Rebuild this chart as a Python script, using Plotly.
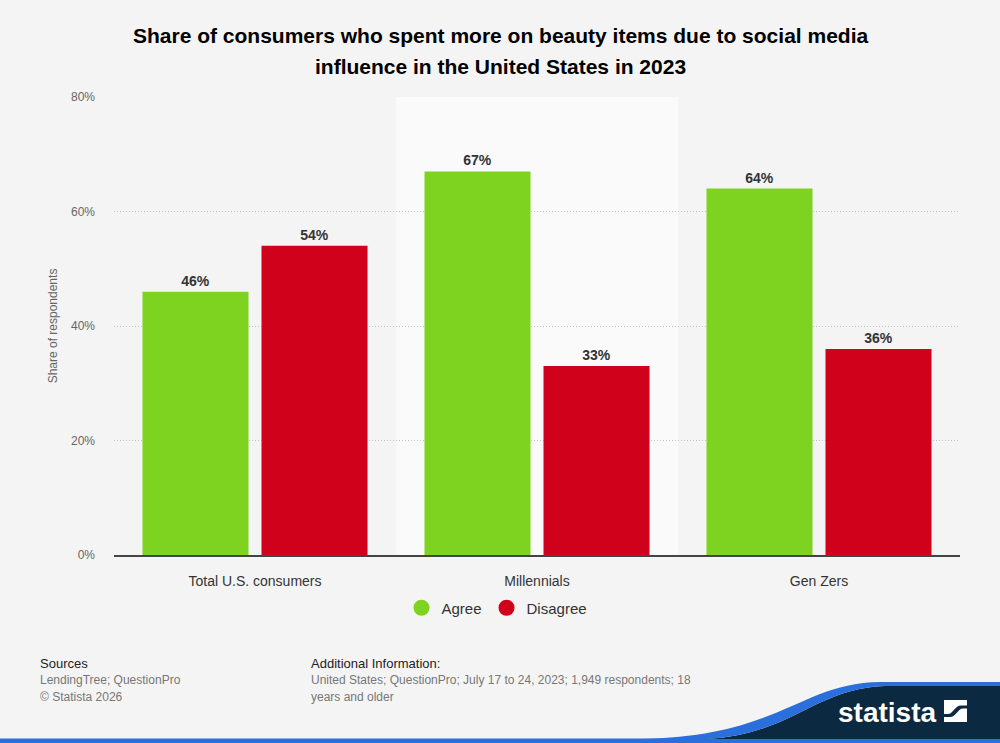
import plotly.graph_objects as go

categories = ["Total U.S. consumers", "Millennials", "Gen Zers"]
agree = [46, 67, 64]
disagree = [54, 33, 36]
series_names = ["Agree", "Disagree"]
y_ticks = [0, 20, 40, 60, 80]
y_tick_labels = ["0%", "20%", "40%", "60%", "80%"]
title_lines = ["Share of consumers who spent more on beauty items due to social media",
               "influence in the United States in 2023"]

W, H = 1000, 743
L, R, T, B = 114, 40, 97, 188
PW, PH = W - L - R, H - T - B

def px(x):
    return (x - L) / PW

def py(y):
    return (H - B - y) / PH

FONT = "Liberation Sans, Arial, sans-serif"
GREEN = "#7ed321"
RED = "#d0021b"

fig = go.Figure()
for name, vals, col in [(series_names[0], agree, GREEN), (series_names[1], disagree, RED)]:
    fig.add_trace(go.Bar(
        x=categories, y=vals, name=name, marker_color=col, marker_line_width=0,
        text=[f"{v}%" for v in vals], textposition="outside", cliponaxis=False,
        textfont=dict(family=FONT, size=14, color="#333333"),
        texttemplate="<b>%{text}</b>", showlegend=False, hoverinfo="skip"))
    fig.add_trace(go.Scatter(
        x=[None], y=[None], mode="markers", name=name,
        marker=dict(symbol="circle", size=16, color=col), showlegend=True))

def P(x, y):
    return f"{px(x):.5f},{py(y):.5f}"

shapes = []
shapes.append(dict(type="rect", xref="x", yref="paper", x0=0.5, x1=1.5, y0=0, y1=1,
                   fillcolor="#fafafa", line_width=0, layer="below"))
shapes.append(dict(type="rect", xref="paper", yref="paper", x0=px(0), x1=px(1000),
                   y0=py(743), y1=py(738.5), fillcolor="#2a6fdb", line_width=0, layer="above"))
navy = (f"M {P(705,739)} C {P(790,736)} {P(815,688)} {P(885,686)} "
        f"L {P(1000,686)} L {P(1000,739)} Z")
shapes.append(dict(type="path", xref="paper", yref="paper", path=navy,
                   fillcolor="#0b2a42", line_width=0, layer="above"))
blue = (f"M {P(640,739)} C {P(780,737)} {P(800,683)} {P(880,682)} "
        f"L {P(1000,682)} L {P(1000,686)} L {P(885,686)} "
        f"C {P(815,688)} {P(790,736)} {P(705,739)} Z")
shapes.append(dict(type="path", xref="paper", yref="paper", path=blue,
                   fillcolor="#2a6fdb", line_width=0, layer="above"))
shapes.append(dict(type="path", xref="paper", yref="paper",
                   path=(f"M {P(944,700)} L {P(967,700)} L {P(967,705.5)} L {P(961,705.5)} "
                         f"C {P(955,705.5)} {P(953,714)} {P(948,714)} L {P(944,714)} Z"),
                   fillcolor="white", line_width=0, layer="above"))
shapes.append(dict(type="path", xref="paper", yref="paper",
                   path=(f"M {P(967,722)} L {P(944,722)} L {P(944,717)} L {P(950,717)} "
                         f"C {P(956,717)} {P(958,708.5)} {P(963,708.5)} L {P(967,708.5)} Z"),
                   fillcolor="white", line_width=0, layer="above"))

annotations = [
    dict(text=f"<b>{title_lines[0]}</b>", x=px(500), y=py(35), xanchor="center", yanchor="middle",
         font=dict(family=FONT, size=21, color="#000000")),
    dict(text=f"<b>{title_lines[1]}</b>", x=px(500), y=py(67), xanchor="center", yanchor="middle",
         font=dict(family=FONT, size=21, color="#000000")),
    dict(text="Sources", x=px(38), y=py(663), xanchor="left", yanchor="middle",
         font=dict(family=FONT, size=13, color="#222222")),
    dict(text="LendingTree; QuestionPro", x=px(38), y=py(680), xanchor="left", yanchor="middle",
         font=dict(family=FONT, size=12, color="#777777")),
    dict(text="© Statista 2026", x=px(38), y=py(697), xanchor="left", yanchor="middle",
         font=dict(family=FONT, size=12, color="#777777")),
    dict(text="Additional Information:", x=px(309), y=py(663), xanchor="left", yanchor="middle",
         font=dict(family=FONT, size=13, color="#222222")),
    dict(text="United States; QuestionPro; July 17 to 24, 2023; 1,949 respondents; 18",
         x=px(309), y=py(680), xanchor="left", yanchor="middle",
         font=dict(family=FONT, size=12, color="#777777")),
    dict(text="years and older", x=px(309), y=py(697), xanchor="left", yanchor="middle",
         font=dict(family=FONT, size=12, color="#777777")),
    dict(text="<b>statista</b>", x=px(938), y=py(712), xanchor="right", yanchor="middle",
         font=dict(family=FONT, size=28, color="white")),
]
for a in annotations:
    a.update(xref="paper", yref="paper", showarrow=False)

fig.update_layout(
    width=W, height=H,
    margin=dict(l=L, r=R, t=T, b=B),
    paper_bgcolor="#f4f4f4", plot_bgcolor="#f4f4f4",
    barmode="group", bargap=0.156, bargroupgap=0.109,
    font=dict(family=FONT),
    legend=dict(orientation="h", x=px(497), xanchor="center", y=py(608), yanchor="middle",
                font=dict(family=FONT, size=15, color="#333333"), bgcolor="rgba(0,0,0,0)",
                itemwidth=30, traceorder="normal"),
    shapes=shapes, annotations=annotations,
    xaxis=dict(showgrid=False, showline=True, linecolor="#444444", linewidth=1.5,
               tickfont=dict(family=FONT, size=14, color="#333333"), ticks="",
               ticklabelstandoff=12, range=[-0.5, 2.5], fixedrange=True),
    yaxis=dict(range=[0, 80], tickvals=y_ticks, ticktext=y_tick_labels,
               showgrid=True, gridcolor="#c4c4c4", griddash="1px,2px", gridwidth=1,
               zeroline=False, showline=False,
               tickfont=dict(family=FONT, size=12, color="#666666"), ticklabelstandoff=18,
               title=dict(text="Share of respondents", standoff=10,
                          font=dict(family=FONT, size=12, color="#666666"))),
)

fig.write_html("out.html")
